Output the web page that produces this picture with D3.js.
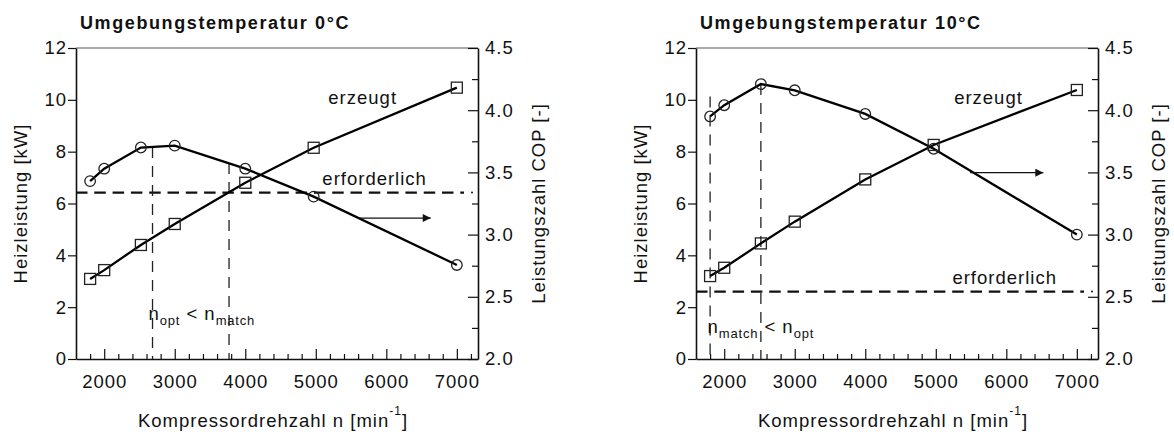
<!DOCTYPE html>
<html>
<head>
<meta charset="utf-8">
<script src="https://cdn.jsdelivr.net/npm/d3@7"></script>
<style>
  body { margin: 0; background: #fff; }
  svg text { font-family: "Liberation Sans", Arial, sans-serif; fill: #111; }
</style>
</head>
<body>
<div id="chart"></div>
<script>
// data
var rpm = [1800, 2000, 2520, 3000, 4000, 4970, 7000];
var heat0 = [3.09, 3.43, 4.40, 5.21, 6.80, 8.15, 10.47];
var cop0 = [3.43, 3.53, 3.70, 3.715, 3.53, 3.305, 2.756];
var heat10 = [3.20, 3.52, 4.46, 5.30, 6.93, 8.26, 10.38];
var cop10 = [3.95, 4.04, 4.21, 4.16, 3.97, 3.69, 3.00];
var required = [6.42, 2.60];
// vertical marker lines: [rpm, COP where the line starts]
var nLines0 = [[2685, 3.705], [3770, 3.575]];
var nLines10 = [[1800, 4.11], [2520, 4.21]];

var xTicks = [2000, 3000, 4000, 5000, 6000, 7000];
var heatTicks = [0, 2, 4, 6, 8, 10, 12];
var copTicks = [2.0, 2.5, 3.0, 3.5, 4.0, 4.5];
var titles = ["Umgebungstemperatur 0°C", "Umgebungstemperatur 10°C"];

var W = 1174, H = 434;
var plotTop = 48, plotBottom = 359, plotW = 402;
var fs = 18.5, ls = 1.0;

var svg = d3.select("#chart")
  .append("svg")
    .attr("width", W)
    .attr("height", H);

var panels = [
  {left: 76, title: titles[0], heat: heat0, cop: cop0, req: required[0], nLines: nLines0,
   erzeugt: [5178, 9.84], erf: [5093, 6.71], arrow: [5600, 6630, 3.133],
   nLabel: [2628, 1.50], nParts: [["n", 0], ["opt", 1], [" < n", 0], ["match", 1]]},
  {left: 696, title: titles[1], heat: heat10, cop: cop10, req: required[1], nLines: nLines10,
   erzeugt: [5260, 9.84], erf: [5236, 2.89], arrow: [5486, 6525, 3.498],
   nLabel: [1764, 1.0], nParts: [["n", 0], ["match", 1], [" < n", 0], ["opt", 1]]}
];

svg.append("defs").append("marker")
    .attr("id", "head")
    .attr("viewBox", "0 0 10 10")
    .attr("refX", 10).attr("refY", 5)
    .attr("markerWidth", 17).attr("markerHeight", 8)
    .attr("markerUnits", "userSpaceOnUse")
    .attr("orient", "auto")
  .append("path")
    .attr("d", "M0,0 L10,5 L0,10 z")
    .attr("fill", "#111");

panels.forEach(function(p) {
  var x = d3.scaleLinear().domain([1600, 7300]).range([p.left, p.left + plotW]);
  var yH = d3.scaleLinear().domain([0, 12]).range([plotBottom, plotTop]);
  var yC = d3.scaleLinear().domain([2, 4.5]).range([plotBottom, plotTop]);
  var g = svg.append("g");

  // top frame line
  g.append("line")
    .attr("x1", p.left).attr("x2", p.left + plotW)
    .attr("y1", plotTop).attr("y2", plotTop)
    .attr("stroke", "#555").attr("stroke-width", 1.2);

  // x axis: ticks pointing inwards
  var xMinor = d3.range(1800, 7300, 200).filter(function(v) { return v % 1000 != 0; });
  g.append("g")
    .attr("transform", "translate(0," + plotBottom + ")")
    .call(d3.axisBottom(x).tickValues(xMinor).tickSizeInner(-5).tickSizeOuter(0).tickFormat(""))
    .call(function(a) { a.select(".domain").remove(); a.selectAll("line").attr("stroke-width", 1.2); });
  var xa = g.append("g")
    .attr("transform", "translate(0," + plotBottom + ")")
    .call(d3.axisBottom(x).tickValues(xTicks).tickSizeInner(-10).tickSizeOuter(0).tickPadding(16)
      .tickFormat(d3.format("d")));
  xa.select(".domain").attr("stroke-width", 1.6);
  xa.selectAll("line").attr("stroke-width", 1.2);

  // left axis
  var ya = g.append("g")
    .attr("transform", "translate(" + p.left + ",0)")
    .call(d3.axisLeft(yH).tickValues(heatTicks).tickSizeInner(8).tickSizeOuter(0).tickPadding(1));
  ya.select(".domain").attr("stroke-width", 1.6);
  ya.selectAll("line").attr("stroke-width", 1.2);

  // right axis: COP, ticks inwards
  var copMinor = [2.25, 2.75, 3.25, 3.75, 4.25];
  g.append("g")
    .attr("transform", "translate(" + (p.left + plotW) + ",0)")
    .call(d3.axisRight(yC).tickValues(copMinor).tickSizeInner(-6).tickSizeOuter(0).tickFormat(""))
    .call(function(a) { a.select(".domain").remove(); a.selectAll("line").attr("stroke-width", 1.2); });
  var ca = g.append("g")
    .attr("transform", "translate(" + (p.left + plotW) + ",0)")
    .call(d3.axisRight(yC).tickValues(copTicks).tickSizeInner(-10).tickSizeOuter(0).tickPadding(7)
      .tickFormat(d3.format(".1f")));
  ca.select(".domain").attr("stroke-width", 1.6);
  ca.selectAll("line").attr("stroke-width", 1.2);

  g.selectAll(".tick text")
    .attr("font-size", fs)
    .attr("letter-spacing", ls)
    .attr("fill", "#111");
  g.selectAll(".tick line, .domain").attr("stroke", "#111");

  // title
  g.append("text")
    .attr("x", p.left + 4).attr("y", 29)
    .attr("font-size", 18).attr("font-weight", "bold")
    .attr("letter-spacing", 1.6)
    .text(p.title);

  // axis labels
  g.append("text")
    .attr("transform", "translate(" + (p.left - 49) + "," + ((plotTop + plotBottom) / 2) + ") rotate(-90)")
    .attr("text-anchor", "middle")
    .attr("font-size", fs).attr("letter-spacing", ls)
    .text("Heizleistung [kW]");
  g.append("text")
    .attr("transform", "translate(" + (p.left + plotW + 66.5) + "," + ((plotTop + plotBottom) / 2) + ") rotate(-90)")
    .attr("text-anchor", "middle")
    .attr("font-size", fs).attr("letter-spacing", ls)
    .text("Leistungszahl COP [-]");
  var xl = g.append("text")
    .attr("x", p.left + plotW / 2 - 4).attr("y", 427)
    .attr("text-anchor", "middle")
    .attr("font-size", fs).attr("letter-spacing", ls);
  xl.append("tspan").text("Kompressordrehzahl n [min");
  xl.append("tspan").attr("font-size", 12).attr("dy", -12).text("-1");
  xl.append("tspan").attr("dy", 12).text("]");

  // required heating (dashed)
  g.append("line")
    .attr("x1", p.left).attr("x2", p.left + plotW - 14)
    .attr("y1", yH(p.req)).attr("y2", yH(p.req))
    .attr("stroke", "#111").attr("stroke-width", 2.3)
    .attr("stroke-dasharray", "11.5,6.8");
  g.append("circle")
    .attr("cx", p.left + plotW - 6).attr("cy", yH(p.req))
    .attr("r", 1).attr("fill", "#111");

  // n_opt / n_match lines
  g.selectAll(".nline")
    .data(p.nLines)
    .enter().append("line")
      .attr("x1", function(d) { return x(d[0]); })
      .attr("x2", function(d) { return x(d[0]); })
      .attr("y1", function(d) { return yC(d[1]); })
      .attr("y2", plotBottom)
      .attr("stroke", "#222").attr("stroke-width", 1.3)
      .attr("stroke-dasharray", "11,8");

  // lines
  var heatPts = rpm.map(function(r, i) { return [r, p.heat[i]]; });
  var copPts = rpm.map(function(r, i) { return [r, p.cop[i]]; });
  g.append("path")
    .datum(heatPts)
    .attr("fill", "none").attr("stroke", "#000").attr("stroke-width", 2.3)
    .attr("d", d3.line().x(function(d) { return x(d[0]); }).y(function(d) { return yH(d[1]); }));
  g.append("path")
    .datum(copPts)
    .attr("fill", "none").attr("stroke", "#000").attr("stroke-width", 2.3)
    .attr("d", d3.line().x(function(d) { return x(d[0]); }).y(function(d) { return yC(d[1]); }));

  // markers
  g.selectAll(".sq")
    .data(heatPts)
    .enter().append("rect")
      .attr("x", function(d) { return x(d[0]) - 5.5; })
      .attr("y", function(d) { return yH(d[1]) - 5.5; })
      .attr("width", 11).attr("height", 11)
      .attr("fill", "none").attr("stroke", "#222").attr("stroke-width", 1.3);
  g.selectAll(".ci")
    .data(copPts)
    .enter().append("circle")
      .attr("cx", function(d) { return x(d[0]); })
      .attr("cy", function(d) { return yC(d[1]); })
      .attr("r", 5.3)
      .attr("fill", "none").attr("stroke", "#222").attr("stroke-width", 1.3);

  // arrow pointing to the COP axis
  g.append("line")
    .attr("x1", x(p.arrow[0])).attr("x2", x(p.arrow[1]))
    .attr("y1", yC(p.arrow[2])).attr("y2", yC(p.arrow[2]))
    .attr("stroke", "#111").attr("stroke-width", 1.3)
    .attr("marker-end", "url(#head)");

  // annotations
  g.append("text")
    .attr("x", x(p.erzeugt[0])).attr("y", yH(p.erzeugt[1]))
    .attr("font-size", fs).attr("letter-spacing", ls)
    .text("erzeugt");
  g.append("text")
    .attr("x", x(p.erf[0])).attr("y", yH(p.erf[1]))
    .attr("font-size", fs).attr("letter-spacing", ls)
    .text("erforderlich");
  var nl = g.append("text")
    .attr("x", x(p.nLabel[0])).attr("y", yH(p.nLabel[1]))
    .attr("font-size", fs).attr("letter-spacing", ls);
  var prevSub = 0;
  p.nParts.forEach(function(part) {
    var sub = part[1];
    nl.append("tspan")
      .attr("dy", (sub - prevSub) * 5)
      .attr("font-size", sub ? 13 : fs)
      .attr("letter-spacing", sub ? 0.8 : ls)
      .attr("xml:space", "preserve")
      .text(part[0]);
    prevSub = sub;
  });
});
</script>
</body>
</html>
